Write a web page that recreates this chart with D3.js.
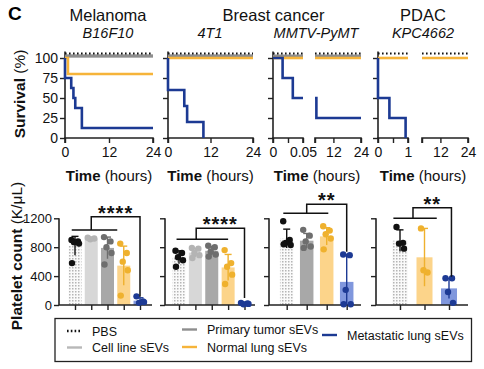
<!DOCTYPE html>
<html><head><meta charset="utf-8">
<script src="https://cdn.jsdelivr.net/npm/d3@7"></script>
<style>
body{margin:0;background:#fff;}
svg{display:block;font-family:"Liberation Sans",Arial,Helvetica,sans-serif;}
</style></head><body>
<svg id="c" width="484" height="369"></svg>
<script>
// ================= DATA =================
const groupNames = ["PBS","Cell line sEVs","Primary tumor sEVs","Normal lung sEVs","Metastatic lung sEVs"];
const cancerTitles = ["Melanoma","Breast cancer","PDAC"];
const modelNames = ["B16F10","4T1","MMTV-PyMT","KPC4662"];
const survivalTicks = [0,25,50,75,100];
const timeTicks24 = [0,6,12,18,24];

// Survival step events: t = hours, s = % surviving
const survB16F10 = [
  {g:"Cell line sEVs", t:[0], s:[100]},
  {g:"Primary tumor sEVs", t:[0], s:[100]},
  {g:"Normal lung sEVs", t:[0,0.8], s:[100,80]},
  {g:"Metastatic lung sEVs", t:[0,0,1.7,2.3,2.8,4.6], s:[100,75,62.5,50,37.5,12.5]},
  {g:"PBS", t:[0], s:[100]}
];
const surv4T1 = [
  {g:"Cell line sEVs", t:[0], s:[100]},
  {g:"Primary tumor sEVs", t:[0], s:[100]},
  {g:"Normal lung sEVs", t:[0], s:[100]},
  {g:"Metastatic lung sEVs", t:[0,0,4.6,5.4,10], s:[100,60,40,20,0]},
  {g:"PBS", t:[0], s:[100]}
];
const survMMTV = [
  {g:"Primary tumor sEVs", t:[0], s:[100]},
  {g:"Normal lung sEVs", t:[0], s:[100]},
  {g:"Metastatic lung sEVs", t:[0,0.016,0.033,4.6], s:[100,75,50,25]},
  {g:"PBS", t:[0], s:[100]}
];
const survKPC = [
  {g:"Normal lung sEVs", t:[0], s:[100]},
  {g:"Metastatic lung sEVs", t:[0,0,0.38,0.92], s:[100,50,25,0]},
  {g:"PBS", t:[0], s:[100]}
];
// broken time axes: domains and labelled ticks
const timeDomainsB16 = [[0,24]], timeTickLabelsB16 = [timeTicks24];
const timeDomains4T1 = [[0,24]], timeTickLabels4T1 = [timeTicks24];
const timeDomainsMMTV = [[0,0.05],[4,24]], timeTickLabelsMMTV = [[0,0.05],[12,24]];
const timeDomainsKPC = [[0,1],[4,24]], timeTickLabelsKPC = [[0,1],[12,24]];

// Platelet counts (K/µL)
const plateletTicks = [0,400,800,1200];
const b16Groups = ["PBS","Cell line sEVs","Primary tumor sEVs","Normal lung sEVs","Metastatic lung sEVs"];
const b16Mean = [820, 920, 790, 545, 60];
const b16SD = [130, 15, 150, 270, 40];
const b16Dots = [[900,880,870,850,580],[930,920,910],[940,880,800,720,560],[850,720,600,480,130],[120,50,30,40]];

const t41Groups = ["PBS","Cell line sEVs","Primary tumor sEVs","Normal lung sEVs","Metastatic lung sEVs"];
const t41Mean = [660, 725, 750, 520, 20];
const t41SD = [90, 60, 60, 180, 10];
const t41Dots = [[750,720,660,620,530],[790,780,720,690,650],[820,800,740,700,670],[760,580,530,420,290],[30,20,10,15]];

const mmtvGroups = ["PBS","Primary tumor sEVs","Normal lung sEVs","Metastatic lung sEVs"];
const mmtvMean = [920, 890, 950, 320];
const mmtvSD = [130, 100, 120, 380];
const mmtvDots = [[1160,900,860,830,840],[1040,960,880,810,790],[1090,1030,980,920,770],[700,690,210,10,10]];

const kpcGroups = ["PBS","Normal lung sEVs","Metastatic lung sEVs"];
const kpcMean = [890, 660, 230];
const kpcSD = [150, 400, 140];
const kpcDots = [[1080,860,850,780],[1060,450,480],[370,370,180,30]];

const sigLabels = ["****","****","**","**"];

// ================= STYLE / LAYOUT =================
const lineColor = {"PBS":"#111","Cell line sEVs":"#b8b8b8","Primary tumor sEVs":"#8e8e8e","Normal lung sEVs":"#f6b43a","Metastatic lung sEVs":"#1c3a93"};
const lineOffset = {"PBS":-4.5,"Cell line sEVs":-2,"Primary tumor sEVs":-2,"Normal lung sEVs":0,"Metastatic lung sEVs":0};
const lineWidth = {"PBS":2,"Cell line sEVs":3,"Primary tumor sEVs":3,"Normal lung sEVs":2.6,"Metastatic lung sEVs":2.6};
const barFill = {"PBS":"url(#dotpat)","Cell line sEVs":"#d7d7d7","Primary tumor sEVs":"#a8a8a8","Normal lung sEVs":"#fcd48a","Metastatic lung sEVs":"#8097dd"};
const dotColor = {"PBS":"#111","Cell line sEVs":"#b4b4b4","Primary tumor sEVs":"#6e6e6e","Normal lung sEVs":"#efb12e","Metastatic lung sEVs":"#1d3a94"};
const axisCol = "#222";

const svg = d3.select("#c");
const defs = svg.append("defs");
const pat = defs.append("pattern").attr("id","dotpat").attr("width",3).attr("height",3).attr("patternUnits","userSpaceOnUse");
pat.append("rect").attr("width",3).attr("height",3).attr("fill","#fafafa");
pat.append("rect").attr("width",1.5).attr("height",1.5).attr("fill","#b5b5b5");

// ---- Titles ----
svg.append("text").attr("x",8).attr("y",20).attr("font-size",19).attr("font-weight","bold").text("C");
const titleX = [108, 273.5, 423];
cancerTitles.forEach((t,i)=>svg.append("text").attr("x",titleX[i]).attr("y",20.5).attr("text-anchor","middle").attr("font-size",16.5).attr("fill","#111").text(t));
const modelX = [108, 210, 316, 423];
modelNames.forEach((t,i)=>svg.append("text").attr("x",modelX[i]).attr("y",38).attr("text-anchor","middle").attr("font-size",14.5).attr("font-style","italic").attr("fill","#111").text(t));

// ---- Survival panels ----
const ySurv = d3.scaleLinear().domain([0,100]).range([138,58]);
const survPanels = [
  {data:survB16F10, doms:timeDomainsB16, labs:timeTickLabelsB16, ranges:[[65,153]], labels:true},
  {data:surv4T1, doms:timeDomains4T1, labs:timeTickLabels4T1, ranges:[[168,253]], labels:false},
  {data:survMMTV, doms:timeDomainsMMTV, labs:timeTickLabelsMMTV, ranges:[[273,303],[315,361]], labels:false},
  {data:survKPC, doms:timeDomainsKPC, labs:timeTickLabelsKPC, ranges:[[378,408],[422,468]], labels:false}
];
function stepPts(ev, a, b){
  const t = ev.t, s = ev.s;
  const endT = s[s.length-1] === 0 ? t[t.length-1] : 24;
  if (endT < a) return null;
  let v0 = s[0];
  t.forEach((ti,i)=>{ if (ti < a) v0 = s[i]; });
  const pts = [[a, v0]];
  const hi = Math.min(b, endT);
  let last = v0;
  t.forEach((ti,i)=>{ if (ti >= a && ti <= hi){ pts.push([ti, s[i]]); last = s[i]; } });
  pts.push([hi, last]);
  return pts;
}
survPanels.forEach(p=>{
  const g = svg.append("g");
  const x0 = p.ranges[0][0];
  const yAx = d3.axisLeft(ySurv).tickValues(survivalTicks).tickSize(5).tickFormat(p.labels? d3.format("d") : "");
  const ga = g.append("g").attr("transform",`translate(${x0},0)`).call(yAx);
  ga.select(".domain").remove();
  ga.append("line").attr("x1",0).attr("x2",0).attr("y1",ySurv(0)).attr("y2",ySurv(108)).attr("stroke",axisCol).attr("stroke-width",1.6);
  ga.selectAll(".tick line").attr("stroke",axisCol).attr("stroke-width",1.4);
  ga.selectAll(".tick text").attr("font-size",14).attr("fill","#111").attr("x",-7).attr("font-family","Liberation Sans, Arial, sans-serif");
  p.doms.forEach((dom,k)=>{
    const xs = d3.scaleLinear().domain(dom).range(p.ranges[k]);
    const allTicks = k===0 ? [dom[0], (dom[0]+dom[1])/2, dom[1]] : [dom[0], ...p.labs[k]];
    const xa = d3.axisBottom(xs).tickValues(allTicks).tickSize(5).tickFormat(v=> p.labs[k].includes(v) ? d3.format("~g")(v) : "");
    const gx = g.append("g").attr("transform",`translate(0,${ySurv(0)})`).call(xa);
    gx.select(".domain").attr("stroke",axisCol).attr("stroke-width",1.6).attr("d",`M${p.ranges[k][0]},5V0H${p.ranges[k][1]}V5`);
    gx.selectAll(".tick line").attr("stroke",axisCol).attr("stroke-width",1.4);
    gx.selectAll(".tick text").attr("font-size",14).attr("fill","#111").attr("y",9).attr("font-family","Liberation Sans, Arial, sans-serif");
    const line = d3.line().x(d=>xs(d[0])).curve(d3.curveStepAfter);
    p.data.forEach(ev=>{
      const pts = stepPts(ev, dom[0], dom[1]);
      if (!pts) return;
      line.y(d=>ySurv(d[1]) + lineOffset[ev.g]);
      g.append("path").attr("d",line(pts)).attr("fill","none")
        .attr("stroke",lineColor[ev.g]).attr("stroke-width",lineWidth[ev.g])
        .attr("stroke-dasharray", ev.g==="PBS" ? "1.6,2.4" : null);
    });
  });
  const cx = (p.ranges[0][0] + p.ranges[p.ranges.length-1][1]) / 2;
  const tt = g.append("text").attr("x",cx).attr("y",181).attr("text-anchor","middle").attr("font-size",15).attr("fill","#111");
  tt.append("tspan").attr("font-weight","bold").text("Time");
  tt.append("tspan").text(" (hours)");
});
const st = svg.append("text").attr("transform","translate(25,94) rotate(-90)").attr("text-anchor","middle").attr("font-size",15.5).attr("fill","#111");
st.append("tspan").attr("font-weight","bold").text("Survival");
st.append("tspan").text(" (%)");

// ---- Platelet bar panels ----
const yPl = d3.scaleLinear().domain([0,1200]).range([305,218.3]);
const barPanels = [
  {groups:b16Groups, mean:b16Mean, sd:b16SD, dots:b16Dots, axis:[59,152], centers:[75,140], bw:13, labels:true,
   br:{lo:[-0.2,2.6], mid:1.0, to:4, yLow:1038, yTop:1222, yEnd:115}},
  {groups:t41Groups, mean:t41Mean, sd:t41SD, dots:t41Dots, axis:[165,255], centers:[179,244.5], bw:13, labels:false,
   br:{lo:[-0.15,3], mid:1.05, to:4, yLow:909, yTop:1062, yEnd:97}},
  {groups:mmtvGroups, mean:mmtvMean, sd:mmtvSD, dots:mmtvDots, axis:[269,361], centers:[286.7,346.7], bw:13.5, labels:false,
   br:{lo:[-0.17,2.08], mid:1.0, to:3, yLow:1269, yTop:1394, yEnd:738}},
  {groups:kpcGroups, mean:kpcMean, sd:kpcSD, dots:kpcDots, axis:[376,468], centers:[400,449], bw:16, labels:false,
   br:{lo:[-0.27,1.5], mid:0.53, to:2.1, yLow:1200, yTop:1347, yEnd:392}}
];
const jit = [-3.5, 3, -1, 4, -3, 1.5];
barPanels.forEach((p,pi)=>{
  const g = svg.append("g");
  const xb = d3.scalePoint().domain(p.groups).range(p.centers);
  const idx = d3.scaleLinear().domain([0, p.groups.length-1]).range(p.centers);
  p.groups.forEach((gn,i)=>{
    g.append("rect").attr("x",xb(gn)-p.bw/2).attr("width",p.bw)
      .attr("y",yPl(p.mean[i])).attr("height",yPl(0)-yPl(p.mean[i])).attr("fill",barFill[gn]);
  });
  p.groups.forEach((gn,i)=>{
    const cx = xb(gn), lo = Math.max(0,p.mean[i]-p.sd[i]), hi = p.mean[i]+p.sd[i];
    const c = dotColor[gn];
    g.append("line").attr("x1",cx).attr("x2",cx).attr("y1",yPl(lo)).attr("y2",yPl(hi)).attr("stroke",c).attr("stroke-width",1.4);
    g.append("line").attr("x1",cx-3.5).attr("x2",cx+3.5).attr("y1",yPl(hi)).attr("y2",yPl(hi)).attr("stroke",c).attr("stroke-width",1.4);
  });
  const yAx = d3.axisLeft(yPl).tickValues(plateletTicks).tickSize(5).tickFormat(p.labels? d3.format("d") : "");
  const ga = g.append("g").attr("transform",`translate(${p.axis[0]},0)`).call(yAx);
  ga.select(".domain").attr("stroke",axisCol).attr("stroke-width",1.6).attr("d",`M0,${yPl(1200)}V${yPl(0)}`);
  ga.selectAll(".tick line").attr("stroke",axisCol).attr("stroke-width",1.4);
  ga.selectAll(".tick text").attr("font-size",13).attr("fill","#111").attr("x",-7).attr("font-family","Liberation Sans, Arial, sans-serif");
  const xa = d3.axisBottom(xb).tickSize(5).tickFormat("");
  const gx = g.append("g").attr("transform",`translate(0,${yPl(0)})`).call(xa);
  gx.select(".domain").attr("stroke",axisCol).attr("stroke-width",1.6).attr("d",`M${p.axis[0]},0H${p.axis[1]}`);
  gx.selectAll(".tick line").attr("stroke",axisCol).attr("stroke-width",1.4);
  p.groups.forEach((gn,i)=>{
    p.dots[i].forEach((v,j)=>{
      g.append("circle").attr("cx",xb(gn)+jit[j%jit.length]).attr("cy",yPl(v)).attr("r",3.2).attr("fill",dotColor[gn]);
    });
  });
  const b = p.br;
  const path = d3.path();
  path.moveTo(idx(b.lo[0]), yPl(b.yLow)); path.lineTo(idx(b.lo[1]), yPl(b.yLow));
  path.moveTo(idx(b.mid), yPl(b.yLow)); path.lineTo(idx(b.mid), yPl(b.yTop));
  path.lineTo(idx(b.to), yPl(b.yTop)); path.lineTo(idx(b.to), yPl(b.yEnd));
  g.append("path").attr("d",path.toString()).attr("fill","none").attr("stroke","#111").attr("stroke-width",1.5);
  g.append("text").attr("x",(idx(b.mid)+idx(b.to))/2).attr("y",yPl(b.yTop)+3).attr("text-anchor","middle")
    .attr("font-size",20).attr("font-weight","bold").attr("letter-spacing",1).attr("fill","#111").text(sigLabels[pi]);
});
const pt = svg.append("text").attr("transform","translate(22,256) rotate(-90)").attr("text-anchor","middle").attr("font-size",15.5).attr("fill","#111");
pt.append("tspan").attr("font-weight","bold").text("Platelet count");
pt.append("tspan").text(" (K/μL)");

// ---- Legend ----
const lg = svg.append("g");
lg.append("rect").attr("x",55).attr("y",318.5).attr("width",416.5).attr("height",43).attr("fill","none").attr("stroke","#222").attr("stroke-width",1.3);
const legendPos = [[67,331],[67,347.5],[182,329.5],[182,347],[322,335]];
groupNames.forEach((gn,i)=>{
  const [lx,ly] = legendPos[i];
  lg.append("line").attr("x1",lx).attr("x2",lx+15).attr("y1",ly).attr("y2",ly)
    .attr("stroke",lineColor[gn]).attr("stroke-width",2.4).attr("stroke-dasharray", gn==="PBS" ? "1.6,2.2" : null);
  lg.append("text").attr("x",lx+25).attr("y",ly+4.5).attr("font-size",12.5).attr("fill","#111").text(gn);
});
</script>
</body></html>
